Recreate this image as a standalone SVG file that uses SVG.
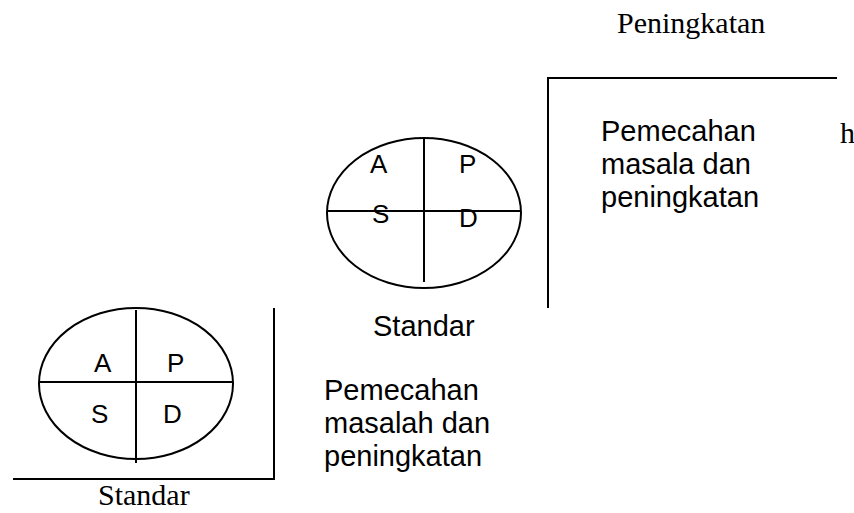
<svg xmlns="http://www.w3.org/2000/svg" width="854" height="513" viewBox="0 0 854 513">
  <style>
    .ln { fill: none; stroke: #000; stroke-width: 2; }
    .sans { font-family: "Liberation Sans", Arial, sans-serif; fill: #000; }
    .serif { font-family: "Liberation Serif", "Times New Roman", serif; fill: #000; }
    .q { font-size: 26px; }
    .lbl { font-size: 29px; }
    .s30 { font-size: 30px; }
  </style>
  <rect width="854" height="513" fill="#fff"/>

  <!-- staircase steps -->
  <g id="steps">
    <path class="ln" d="M13 479 H274 V308"/>
    <path class="ln" d="M548 308 V78 H837"/>
  </g>

  <!-- lower PDCA cycle -->
  <g id="cycle-lower">
    <ellipse class="ln" cx="136" cy="383.5" rx="97" ry="75.5"/>
    <line class="ln" x1="39" y1="382" x2="233" y2="382"/>
    <line class="ln" x1="136" y1="310" x2="136" y2="463"/>
    <text class="sans q" x="94" y="372">A</text>
    <text class="sans q" x="167" y="372">P</text>
    <text class="sans q" x="91" y="423">S</text>
    <text class="sans q" x="163" y="423">D</text>
    <text class="serif s30" x="98" y="505">Standar</text>
  </g>

  <!-- lower step label -->
  <g id="label-lower">
    <text class="sans lbl" x="324" y="400">Pemecahan</text>
    <text class="sans lbl" x="324" y="433">masalah dan</text>
    <text class="sans lbl" x="324" y="466">peningkatan</text>
  </g>

  <!-- upper PDCA cycle -->
  <g id="cycle-upper">
    <ellipse class="ln" cx="424" cy="213" rx="97" ry="75"/>
    <line class="ln" x1="327" y1="211" x2="521" y2="211"/>
    <line class="ln" x1="424" y1="138" x2="424" y2="282"/>
    <text class="sans q" x="370" y="173">A</text>
    <text class="sans q" x="459" y="173">P</text>
    <text class="sans q" x="372" y="223">S</text>
    <text class="sans q" x="459" y="227">D</text>
    <text class="sans lbl" x="373" y="336">Standar</text>
  </g>

  <!-- upper step label -->
  <g id="label-upper">
    <text class="sans lbl" x="601" y="141">Pemecahan</text>
    <text class="sans lbl" x="601" y="174">masala dan</text>
    <text class="sans lbl" x="601" y="207">peningkatan</text>
    <text class="serif s30" x="840" y="143">h</text>
  </g>

  <text id="title" class="serif s30" x="617" y="33">Peningkatan</text>
</svg>
